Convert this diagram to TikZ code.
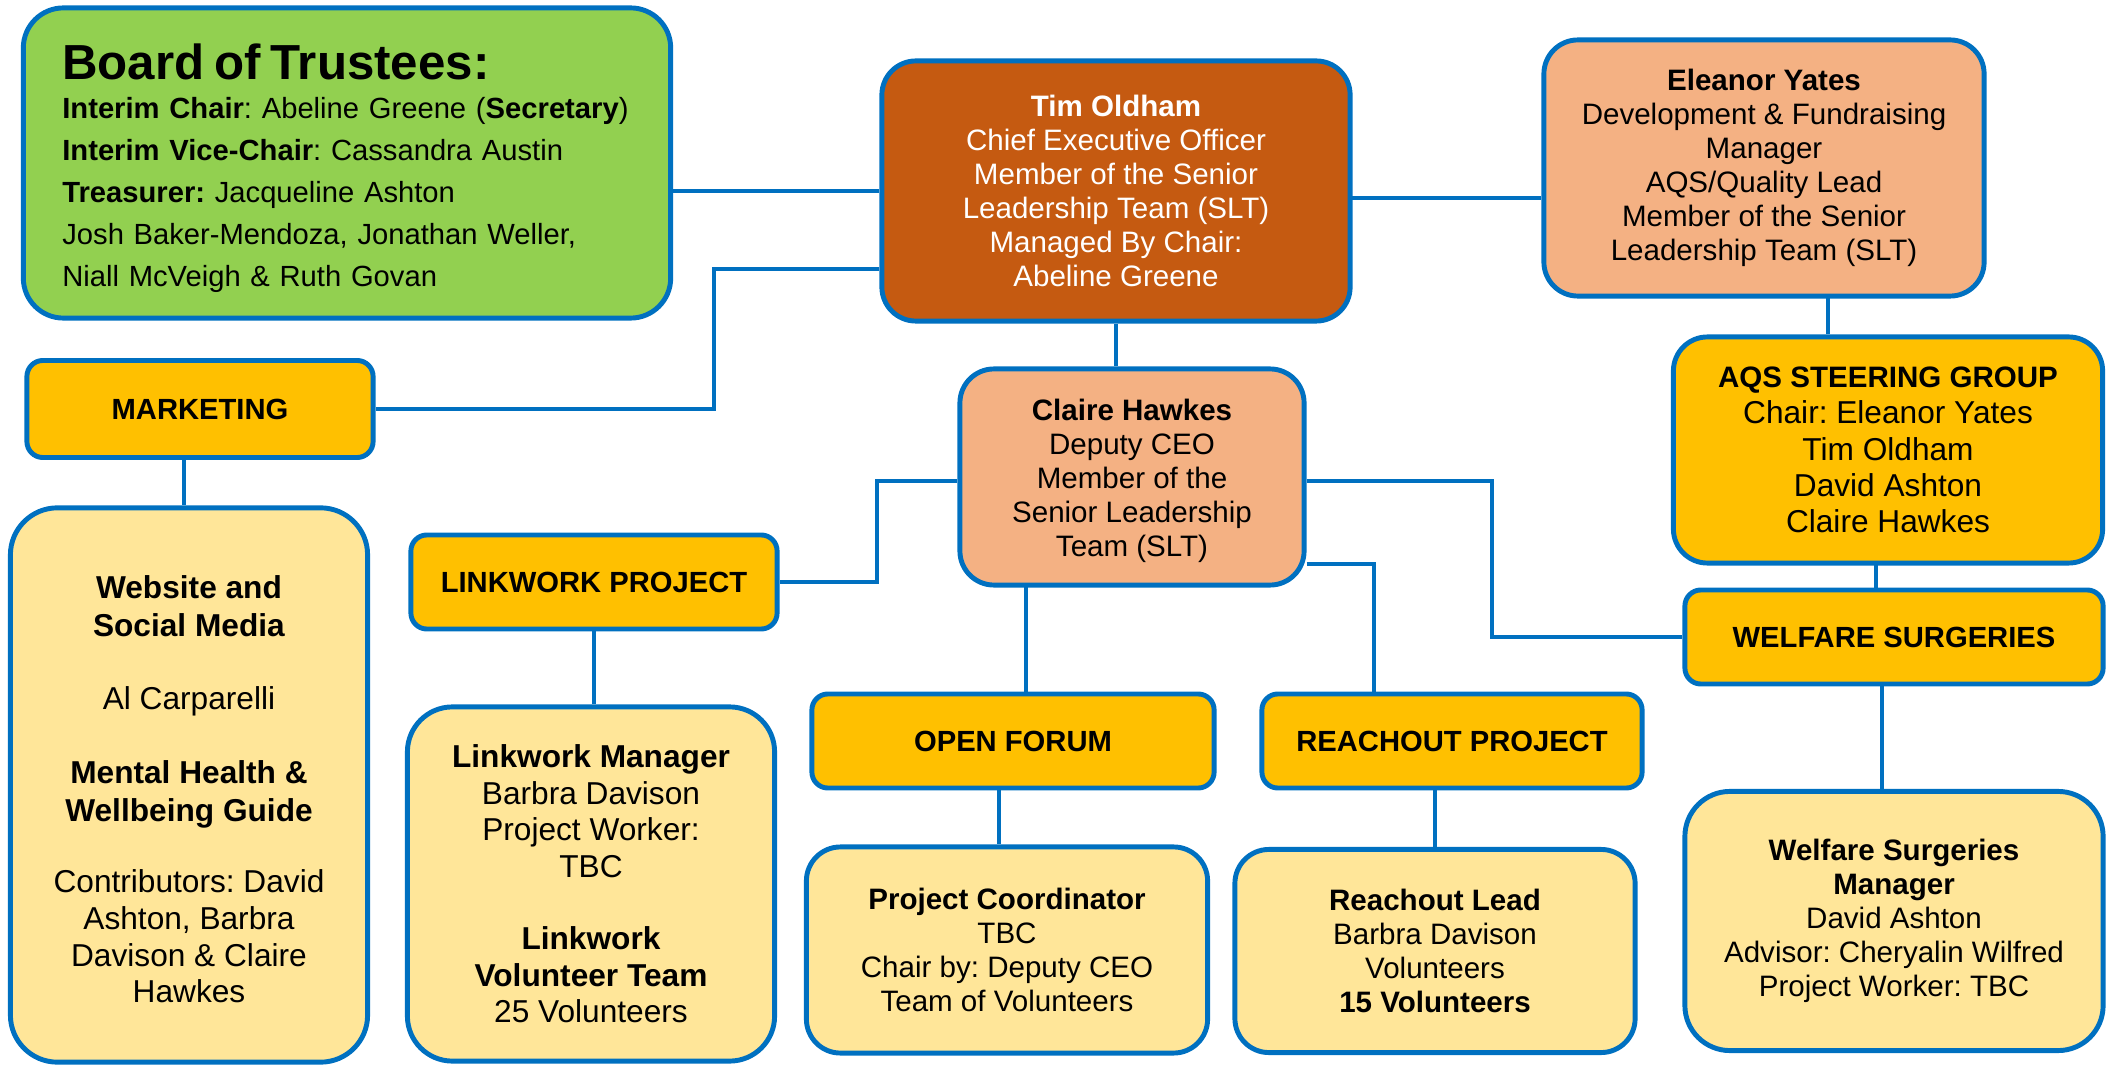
\documentclass[tikz,border=0pt]{standalone}
\usepackage{fontspec}
\setmainfont{Liberation Sans}
\usepackage{xcolor}
\usepackage{tikz}
\usetikzlibrary{shapes.misc}
\usetikzlibrary{positioning}
\definecolor{lineblue}{HTML}{0070C0}
\definecolor{boardgreen}{HTML}{92D050}
\definecolor{ceobrown}{HTML}{C55A11}
\definecolor{peach}{HTML}{F4B183}
\definecolor{barorange}{HTML}{FFC000}
\definecolor{paleyellow}{HTML}{FFE699}
\frenchspacing

\begin{document}
\begin{tikzpicture}
      [
        x=0.01cm,y=-0.01cm,
        box/.style={draw=lineblue,line width=1.4pt,rounded corners=0.34cm,align=center,inner sep=0pt},
        bar/.style={box,fill=barorange,rounded corners=0.16cm,font=\fontsize{8.3}{9.6}\selectfont\bfseries},
        info/.style={box,fill=paleyellow,font=\fontsize{8.4}{9.7}\selectfont},
        slt/.style={box,fill=peach,font=\fontsize{8.4}{9.7}\selectfont},
        link/.style={draw=lineblue,line width=1.4pt}
      ]

      \useasboundingbox (0,0) rectangle (2112,1067);

      \node[box,fill=boardgreen,rounded corners=0.4cm,minimum width=6.47cm,minimum height=3.1cm,
        text width=5.69cm,align=left,font=\fontsize{8.3}{11.9}\selectfont] (Board) at (347,163)
        {\rule{0pt}{13pt}{\fontsize{14}{15}\selectfont\bfseries Board of Trustees:}\\[-0.8pt]
         \mbox{\textbf{Interim Chair}: Abeline Greene (\textbf{Secretary})}\\
         \textbf{Interim Vice-Chair}: Cassandra Austin\\
         \textbf{Treasurer:} Jacqueline Ashton\\
         Josh Baker-Mendoza, Jonathan Weller,\\
         Niall McVeigh \& Ruth Govan};

      \node[box,fill=ceobrown,text=white,minimum width=4.68cm,minimum height=2.6cm,
        font=\fontsize{8.4}{9.7}\selectfont] (CEO) at (1116,191)
        {\textbf{Tim Oldham}\\Chief Executive Officer\\Member of the Senior\\Leadership Team (SLT)\\Managed By Chair:\\Abeline Greene};
      \node[slt,minimum width=4.4cm,minimum height=2.56cm] (Dev) at (1764,168)
        {\textbf{Eleanor Yates}\\Development \& Fundraising\\Manager\\AQS/Quality Lead\\Member of the Senior\\Leadership Team (SLT)};
      \node[slt,minimum width=3.44cm,minimum height=2.16cm] (Deputy) at (1132,477)
        {\rule{0pt}{8.4pt}\textbf{Claire Hawkes}\\Deputy CEO\\Member of the\\Senior Leadership\\Team (SLT)};

      \node[bar,minimum width=3.46cm,minimum height=0.97cm] (Marketing) at (200,409) {MARKETING};
      \node[bar,minimum width=3.66cm,minimum height=0.94cm] (Linkwork) at (594,582) {LINKWORK PROJECT};
      \node[bar,minimum width=4.02cm,minimum height=0.94cm] (Forum) at (1013,741) {OPEN FORUM};
      \node[bar,minimum width=3.8cm,minimum height=0.94cm] (Reachout) at (1452,741) {REACHOUT PROJECT};
      \node[bar,minimum width=4.18cm,minimum height=0.94cm] (Welfare) at (1894,637) {WELFARE SURGERIES};
      \node[box,fill=barorange,minimum width=4.29cm,minimum height=2.26cm,
        font=\fontsize{9}{10.35}\selectfont] (AQS) at (1888,450)
        {{\fontsize{8.4}{10.35}\selectfont\bfseries AQS STEERING GROUP}\\Chair: Eleanor Yates\\Tim Oldham\\David Ashton\\Claire Hawkes};

      \node[info,rounded corners=0.47cm,minimum width=3.57cm,minimum height=5.54cm,
        font=\fontsize{9}{10.8}\selectfont] (Website) at (189,785)
        {\rule{0pt}{9pt}\textbf{Website and}\\\textbf{Social Media}\\[9.9pt]Al Carparelli\\[10.3pt]\textbf{Mental Health \&}\\\textbf{Wellbeing Guide}\\[9.5pt]
         Contributors: David\\[-0.4pt]Ashton, Barbra\\[-0.4pt]Davison \& Claire\\[-0.4pt]Hawkes};
      \node[info,rounded corners=0.45cm,minimum width=3.67cm,minimum height=3.54cm,
        font=\fontsize{9}{10.35}\selectfont] (LinkMgr) at (591,884)
        {\textbf{Linkwork Manager}\\Barbra Davison\\Project Worker:\\TBC\\[10.35pt]\textbf{Linkwork}\\\textbf{Volunteer Team}\\25 Volunteers};
      \node[info,minimum width=4.01cm,minimum height=2.06cm] (Coord) at (1007,950)
        {\textbf{Project Coordinator}\\TBC\\Chair by: Deputy CEO\\Team of Volunteers};
      \node[info,minimum width=4cm,minimum height=2.03cm] (Lead) at (1435,951)
        {\textbf{Reachout Lead}\\Barbra Davison\\Volunteers\\\textbf{15 Volunteers}};
      \node[info,rounded corners=0.45cm,minimum width=4.18cm,minimum height=2.59cm] (WelMgr) at (1894,921)
        {\textbf{Welfare Surgeries}\\\textbf{Manager}\\David Ashton\\Advisor: Cheryalin Wilfred\\Project Worker: TBC};

      \coordinate (CEOr) at (1350,198);
      \coordinate (DevDown) at (1828,296);
      \coordinate (AQSDown) at (1876,563);
      \coordinate (MktDown) at (184,458);
      \coordinate (DepDown) at (1026,585);
      \coordinate (ForumDown) at (999,788);
      \coordinate (ReachDown) at (1435,788);
      \coordinate (WelDown) at (1882,684);
      \coordinate (MktBend) at (714,269);
      \coordinate (LinkBend) at (877,481);
      \coordinate (ReachBend) at (1374,564);
      \coordinate (WelBend) at (1492,481);

      \draw[link] (CEO.west) -- (CEO.west -| Board.east);
      \draw[link] (CEOr) -- (CEOr -| Dev.west);
      \draw[link] (CEO.south) -- (CEO.south |- Deputy.north);
      \draw[link] (DevDown) -- (DevDown |- AQS.north);
      \draw[link] (AQSDown) -- (AQSDown |- Welfare.north);
      \draw[link] (CEO.west |- MktBend) -- (MktBend) |- (Marketing.east);
      \draw[link] (MktDown) -- (MktDown |- Website.north);

      \draw[link] (Deputy.west |- LinkBend) -- (LinkBend) |- (Linkwork.east);
      \draw[link] (Linkwork.south) -- (Linkwork.south |- LinkMgr.north);
      \draw[link] (DepDown) -- (DepDown |- Forum.north);
      \draw[link] (ForumDown) -- (ForumDown |- Coord.north);
      \draw[link] (Deputy.east |- ReachBend) -| (ReachBend |- Reachout.north);
      \draw[link] (ReachDown) -- (ReachDown |- Lead.north);
      \draw[link] (Deputy.east |- WelBend) -- (WelBend) |- (Welfare.west);
      \draw[link] (WelDown) -- (WelDown |- WelMgr.north);
    \end{tikzpicture}
\end{document}
